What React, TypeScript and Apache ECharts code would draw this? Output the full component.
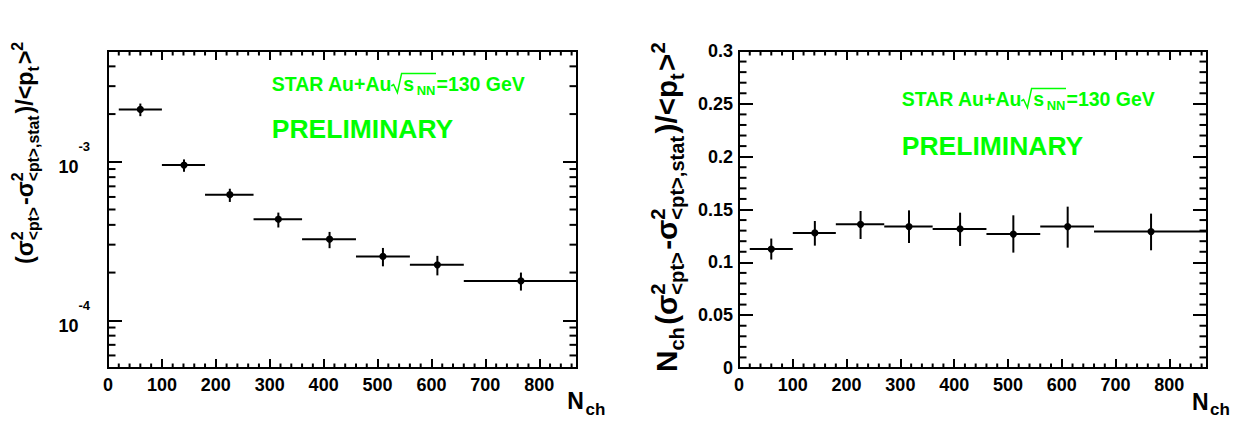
import React, { useEffect, useRef } from 'react';
import * as echarts from 'echarts';

const FONT = '"Liberation Sans", Arial, Helvetica, sans-serif';
const GREEN = '#00ff00';

// ---------------- data ----------------
const binLow = [20, 100, 180, 270, 360, 460, 560, 660];
const binHigh = [100, 180, 270, 360, 460, 560, 660, 870];
const nchMean = [60, 141, 226, 316, 411, 510, 611, 766];

const varValue = [2.14e-3, 9.53e-4, 6.2e-4, 4.34e-4, 3.25e-4, 2.53e-4, 2.24e-4, 1.77e-4];
const varErrLow = [1.94e-3, 8.65e-4, 5.58e-4, 3.85e-4, 2.85e-4, 2.19e-4, 1.92e-4, 1.54e-4];
const varErrHigh = [2.33e-3, 1.035e-3, 6.76e-4, 4.78e-4, 3.61e-4, 2.86e-4, 2.55e-4, 2.0e-4];

const scaledValue = [0.1126, 0.1278, 0.136, 0.1338, 0.1316, 0.1268, 0.1338, 0.1291];
const scaledErrLow = [0.1026, 0.1158, 0.1221, 0.1183, 0.1155, 0.1092, 0.1139, 0.1114];
const scaledErrHigh = [0.1225, 0.1391, 0.1486, 0.1492, 0.147, 0.1445, 0.1527, 0.1461];

const xTickLabels = ['0', '100', '200', '300', '400', '500', '600', '700', '800'];
const logDecadeExponents = [-4, -3];
const scaledTickLabels = ['0', '0.05', '0.1', '0.15', '0.2', '0.25', '0.3'];

// minor tick positions (axis decoration)
const xMinorTickValues = [
  20, 40, 60, 80, 120, 140, 160, 180, 220, 240, 260, 280, 320, 340, 360, 380, 420, 440,
  460, 480, 520, 540, 560, 580, 620, 640, 660, 680, 720, 740, 760, 780, 820, 840, 860,
];
const logMinorTickValues = [
  6e-5, 7e-5, 8e-5, 9e-5, 2e-4, 3e-4, 4e-4, 5e-4, 6e-4, 7e-4, 8e-4, 9e-4, 2e-3, 3e-3, 4e-3,
];
const linMinorTickValues = [
  0.01, 0.02, 0.03, 0.04, 0.06, 0.07, 0.08, 0.09, 0.11, 0.12, 0.13, 0.14,
  0.16, 0.17, 0.18, 0.19, 0.21, 0.22, 0.23, 0.24, 0.26, 0.27, 0.28, 0.29,
];

const X_MIN = 0;
const X_MAX = 870;
const LOG_MIN = 5e-5;
const LOG_MAX = 5e-3;
const LIN_MIN = 0;
const LIN_MAX = 0.3;

type TTok = { n?: string; sup?: string; sub?: string };
const leftTitleTokens: TTok[] = [
  { n: '(' }, { n: 'σ' }, { sup: '2', sub: '<pt>' }, { n: '-' }, { n: 'σ' },
  { sup: '2', sub: '<pt>,stat' }, { n: ')/<p' }, { sub: 't' }, { n: '>' }, { sup: '2' },
];
const rightTitleTokens: TTok[] = [{ n: 'N' }, { sub: 'ch' }, ...leftTitleTokens];

// --------------- helpers ---------------
let measureCtx: CanvasRenderingContext2D | null = null;
function tw(text: string, size: number): number {
  if (!measureCtx) measureCtx = document.createElement('canvas').getContext('2d');
  if (!measureCtx) return text.length * size * 0.6;
  measureCtx.font = `bold ${size}px ${FONT}`;
  return measureCtx.measureText(text).width;
}

function txt(s: string, x: number, baseline: number, size: number, color: string) {
  return {
    type: 'text',
    x,
    y: baseline - 0.3465 * size,
    silent: true,
    style: {
      text: s,
      fill: color,
      fontSize: size,
      fontWeight: 'bold',
      fontFamily: FONT,
      align: 'left',
      verticalAlign: 'middle',
    },
  };
}

function layoutLatex(tokens: TTok[], F: number, ratio: number) {
  const f = F * ratio;
  const children: any[] = [];
  let x = 0;
  for (const t of tokens) {
    if (t.n) {
      children.push(txt(t.n, x, 0, F, '#000'));
      x += tw(t.n, F);
    } else {
      let w = 0;
      if (t.sup) {
        children.push(txt(t.sup, x, -0.42 * F, f, '#000'));
        w = Math.max(w, tw(t.sup, f));
      }
      if (t.sub) {
        children.push(txt(t.sub, x, 0.25 * F, f, '#000'));
        w = Math.max(w, tw(t.sub, f));
      }
      x += w + 0.08 * F;
    }
  }
  return { children, length: x };
}

function verticalTitle(tokens: TTok[], baseX: number, startY: number, target: number) {
  const probe = layoutLatex(tokens, 20, 0.68);
  const F = (20 * target) / probe.length;
  const lay = layoutLatex(tokens, F, 0.68);
  return { type: 'group', x: baseX, y: startY, rotation: Math.PI / 2, children: lay.children };
}

function starLabel(dx: number, dy1: number, dy2: number) {
  const b = 91 + dy1;
  return [
    txt('STAR Au+Au', 271.7 + dx, b, 19.5, GREEN),
    {
      type: 'polyline',
      silent: true,
      shape: {
        points: [
          [391.3 + dx, b - 5],
          [393.6 + dx, b - 6.5],
          [397.4 + dx, b + 1.6],
          [401.6 + dx, b - 17.6],
          [436 + dx, b - 17.6],
        ],
      },
      style: { stroke: GREEN, lineWidth: 1.5, fill: null },
    },
    txt('s', 403.3 + dx, b, 19.5, GREEN),
    txt('NN', 416.7 + dx, b + 4, 13, GREEN),
    txt('=130 GeV', 436.5 + dx, b, 19.5, GREEN),
    txt('PRELIMINARY', 271.7 + dx, 138.3 + dy2, 26.5, GREEN),
  ];
}

const labelBase = { color: '#000', fontSize: 18, fontWeight: 'bold', fontFamily: FONT };
const tickLine = { color: '#000', width: 2 };

function xAxisDef(g: number, pos: string, withLabels: boolean) {
  return {
    type: 'value',
    gridIndex: g,
    position: pos,
    min: X_MIN,
    max: X_MAX,
    interval: 100,
    axisLine: { show: false, onZero: false },
    axisTick: { show: true, inside: true, length: 9, lineStyle: tickLine },
    minorTick: { show: false },
    splitLine: { show: false },
    axisLabel: withLabels
      ? {
          ...labelBase,
          margin: 8,
          showMaxLabel: false,
          formatter: (v: number) =>
            xTickLabels.includes(String(Math.round(v))) ? String(Math.round(v)) : '',
        }
      : { show: false },
  };
}

function logAxisDef(pos: string, withLabels: boolean) {
  return {
    type: 'log',
    logBase: 10,
    gridIndex: 0,
    position: pos,
    min: LOG_MIN,
    max: LOG_MAX,
    axisLine: { show: false, onZero: false },
    axisTick: { show: true, inside: true, length: 14, lineStyle: tickLine },
    minorTick: { show: false },
    splitLine: { show: false },
    minorSplitLine: { show: false },
    axisLabel: withLabels
      ? {
          margin: 18,
          showMinLabel: false,
          showMaxLabel: false,
          formatter: (v: number) => {
            const e = Math.round(Math.log10(v));
            if (Math.abs(Math.log10(v) - e) > 1e-6 || !logDecadeExponents.includes(e)) return '';
            return `{b|10}{s|${e}}`;
          },
          rich: {
            b: { ...labelBase, padding: [11, 0, 0, 0] },
            s: { ...labelBase, fontSize: 13, padding: [0, 0, 30, 0] },
          },
        }
      : { show: false },
  };
}

function linAxisDef(pos: string, withLabels: boolean) {
  return {
    type: 'value',
    gridIndex: 1,
    position: pos,
    min: LIN_MIN,
    max: LIN_MAX,
    interval: 0.05,
    axisLine: { show: false, onZero: false },
    axisTick: { show: true, inside: true, length: 14, lineStyle: tickLine },
    minorTick: { show: false },
    splitLine: { show: false },
    axisLabel: withLabels
      ? {
          ...labelBase,
          margin: 6,
          padding: [4, 0, 0, 0],
          formatter: (v: number) => {
            const s = String(+v.toFixed(2));
            return scaledTickLabels.includes(s) ? s : '';
          },
        }
      : { show: false },
  };
}

// data points with error bars; the first item also carries the frame's minor ticks
function errorSeries(
  axIdx: number,
  vals: number[],
  lo: number[],
  hi: number[],
  yMinor: number[],
  yLo: number,
  yHi: number,
) {
  const data = nchMean.map((x, i) => [x, vals[i], binLow[i], binHigh[i], lo[i], hi[i]]);
  return {
    type: 'custom',
    xAxisIndex: axIdx,
    yAxisIndex: axIdx,
    silent: true,
    z: 5,
    clip: false,
    encode: { x: 0, y: 1 },
    data,
    renderItem: (params: any, api: any) => {
      const x = api.value(0);
      const y = api.value(1);
      const p = api.coord([x, y]);
      const l = api.coord([api.value(2), y]);
      const r = api.coord([api.value(3), y]);
      const b = api.coord([x, api.value(4)]);
      const t = api.coord([x, api.value(5)]);
      const st = { stroke: '#000', lineWidth: 2 };
      const children: any[] = [
        { type: 'line', shape: { x1: l[0], y1: l[1], x2: r[0], y2: r[1] }, style: st },
        { type: 'line', shape: { x1: b[0], y1: b[1], x2: t[0], y2: t[1] }, style: st },
        { type: 'circle', shape: { cx: p[0], cy: p[1], r: 3.6 }, style: { fill: '#000' } },
      ];
      if (params.dataIndex === 0) {
        for (const xv of xMinorTickValues) {
          const pb = api.coord([xv, yLo]);
          const pt = api.coord([xv, yHi]);
          children.push({ type: 'line', shape: { x1: pb[0], y1: pb[1], x2: pb[0], y2: pb[1] - 4.5 }, style: st });
          children.push({ type: 'line', shape: { x1: pt[0], y1: pt[1], x2: pt[0], y2: pt[1] + 4.5 }, style: st });
        }
        for (const yv of yMinor) {
          const pl = api.coord([X_MIN, yv]);
          const pr = api.coord([X_MAX, yv]);
          children.push({ type: 'line', shape: { x1: pl[0], y1: pl[1], x2: pl[0] + 7.5, y2: pl[1] }, style: st });
          children.push({ type: 'line', shape: { x1: pr[0], y1: pr[1], x2: pr[0] - 7.5, y2: pr[1] }, style: st });
        }
      }
      return { type: 'group', children };
    },
  };
}

export default function App() {
  const ref = useRef<HTMLDivElement>(null);
  useEffect(() => {
    document.body.style.margin = '0';
    if (!ref.current) return;
    const chart = echarts.init(ref.current, undefined, { renderer: 'svg' });
    const gridBase = {
      show: true,
      borderColor: '#000',
      borderWidth: 2,
      backgroundColor: 'rgba(0,0,0,0)',
      containLabel: false,
      outerBoundsMode: 'none',
    };
    const option: any = {
      animation: false,
      backgroundColor: '#ffffff',
      grid: [
        { ...gridBase, left: 108, top: 51, width: 469, height: 317 },
        { ...gridBase, left: 739, top: 51, width: 468, height: 317 },
      ],
      xAxis: [
        xAxisDef(0, 'bottom', true),
        xAxisDef(0, 'top', false),
        xAxisDef(1, 'bottom', true),
        xAxisDef(1, 'top', false),
      ],
      yAxis: [
        logAxisDef('left', true),
        logAxisDef('right', false),
        linAxisDef('left', true),
        linAxisDef('right', false),
      ],
      series: [
        errorSeries(0, varValue, varErrLow, varErrHigh, logMinorTickValues, LOG_MIN, LOG_MAX),
        errorSeries(2, scaledValue, scaledErrLow, scaledErrHigh, linMinorTickValues, LIN_MIN, LIN_MAX),
      ],
      graphic: {
        elements: [
          ...starLabel(0, 0, 0),
          ...starLabel(630, 15, 16.7),
          verticalTitle(leftTitleTokens, 33, 264, 224),
          verticalTitle(rightTitleTokens, 677, 372, 332),
          txt('N', 567.3, 409, 23, '#000'),
          txt('ch', 585.5, 415, 17, '#000'),
          txt('N', 1192, 410, 23, '#000'),
          txt('ch', 1210, 415.5, 17, '#000'),
        ],
      },
    };
    chart.setOption(option);
    return () => chart.dispose();
  }, []);
  return <div ref={ref} style={{ width: 1250, height: 434 }} />;
}
